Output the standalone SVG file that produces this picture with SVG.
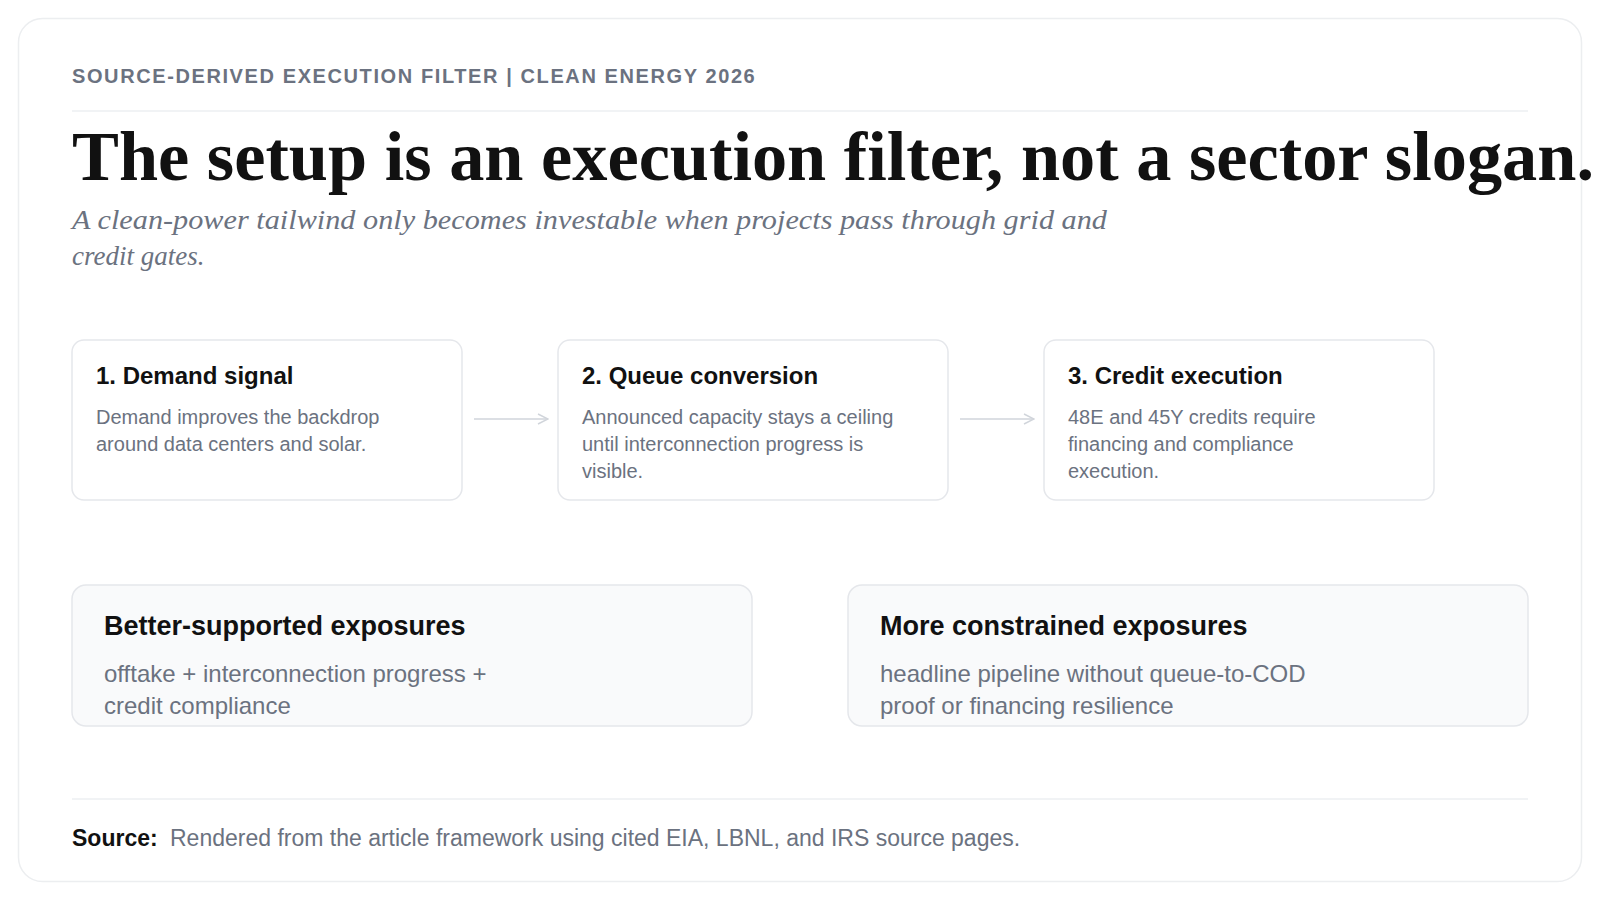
<svg xmlns="http://www.w3.org/2000/svg" width="1600" height="900" viewBox="0 0 1600 900">
<defs>
<style>
.sans{font-family:"Liberation Sans",Arial,sans-serif}
.serif{font-family:"Liberation Serif","Times New Roman",serif}
.kicker{font-size:20px;font-weight:700;fill:#6b7280;letter-spacing:1.6px}
.title{font-size:70px;font-weight:700;fill:#111111}
.sub{font-size:27px;font-style:italic;fill:#6b7280}
.step{fill:#ffffff;stroke:#e5e7eb;stroke-width:1.5}
.stepT{font-size:24px;font-weight:700;fill:#111111}
.stepB{font-size:20px;fill:#6b7280}
.exp{fill:#f9fafb;stroke:#e5e7eb;stroke-width:1.5}
.expT{font-size:27px;font-weight:700;fill:#111111}
.expB{font-size:24px;fill:#6b7280}
.rule{stroke:#f1f3f5;stroke-width:2}
.conn{stroke:#d1d5db;stroke-width:1.5;fill:none}
</style>
<marker id="arr" viewBox="0 0 12 12" refX="11" refY="6" markerWidth="12" markerHeight="12" markerUnits="userSpaceOnUse" orient="auto">
<path d="M1,1 L11,6 L1,11" fill="none" stroke="#d1d5db" stroke-width="1.5"/>
</marker>
</defs>
<rect x="0" y="0" width="1600" height="900" fill="#ffffff"/>
<rect x="18.5" y="18.5" width="1563" height="863" rx="24" fill="#ffffff" stroke="#eceef0" stroke-width="1.5"/>
<g id="header">
<text class="sans kicker" x="72" y="83">SOURCE-DERIVED EXECUTION FILTER | CLEAN ENERGY 2026</text>
<line class="rule" x1="72" y1="111" x2="1528" y2="111"/>
<text class="serif title" x="72" y="180" textLength="1522" lengthAdjust="spacingAndGlyphs">The setup is an execution filter, not a sector slogan.</text>
<text class="serif sub" x="72" y="229" textLength="1035" lengthAdjust="spacingAndGlyphs">A clean-power tailwind only becomes investable when projects pass through grid and</text>
<text class="serif sub" x="72" y="265">credit gates.</text>
</g>
<g id="connectors">
<line class="conn" x1="474" y1="419" x2="548" y2="419" marker-end="url(#arr)"/>
<line class="conn" x1="960" y1="419" x2="1034" y2="419" marker-end="url(#arr)"/>
</g>
<g id="step1">
<rect class="step" x="72" y="340" width="390" height="160" rx="12"/>
<text class="sans stepT" x="96" y="384">1. Demand signal</text>
<text class="sans stepB" x="96" y="424">Demand improves the backdrop</text>
<text class="sans stepB" x="96" y="451">around data centers and solar.</text>
</g>
<g id="step2">
<rect class="step" x="558" y="340" width="390" height="160" rx="12"/>
<text class="sans stepT" x="582" y="384">2. Queue conversion</text>
<text class="sans stepB" x="582" y="424">Announced capacity stays a ceiling</text>
<text class="sans stepB" x="582" y="451">until interconnection progress is</text>
<text class="sans stepB" x="582" y="478">visible.</text>
</g>
<g id="step3">
<rect class="step" x="1044" y="340" width="390" height="160" rx="12"/>
<text class="sans stepT" x="1068" y="384">3. Credit execution</text>
<text class="sans stepB" x="1068" y="424">48E and 45Y credits require</text>
<text class="sans stepB" x="1068" y="451">financing and compliance</text>
<text class="sans stepB" x="1068" y="478">execution.</text>
</g>
<g id="better">
<rect class="exp" x="72" y="585" width="680" height="141" rx="14"/>
<text class="sans expT" x="104" y="635">Better-supported exposures</text>
<text class="sans expB" x="104" y="682">offtake + interconnection progress +</text>
<text class="sans expB" x="104" y="714">credit compliance</text>
</g>
<g id="constrained">
<rect class="exp" x="848" y="585" width="680" height="141" rx="14"/>
<text class="sans expT" x="880" y="635">More constrained exposures</text>
<text class="sans expB" x="880" y="682">headline pipeline without queue-to-COD</text>
<text class="sans expB" x="880" y="714">proof or financing resilience</text>
</g>
<g id="footer">
<line class="rule" x1="72" y1="799" x2="1528" y2="799"/>
<text class="sans" x="72" y="846" font-size="23" fill="#6b7280"><tspan font-weight="700" fill="#111111">Source:</tspan><tspan x="170">Rendered from the article framework using cited EIA, LBNL, and IRS source pages.</tspan></text>
</g>
</svg>
